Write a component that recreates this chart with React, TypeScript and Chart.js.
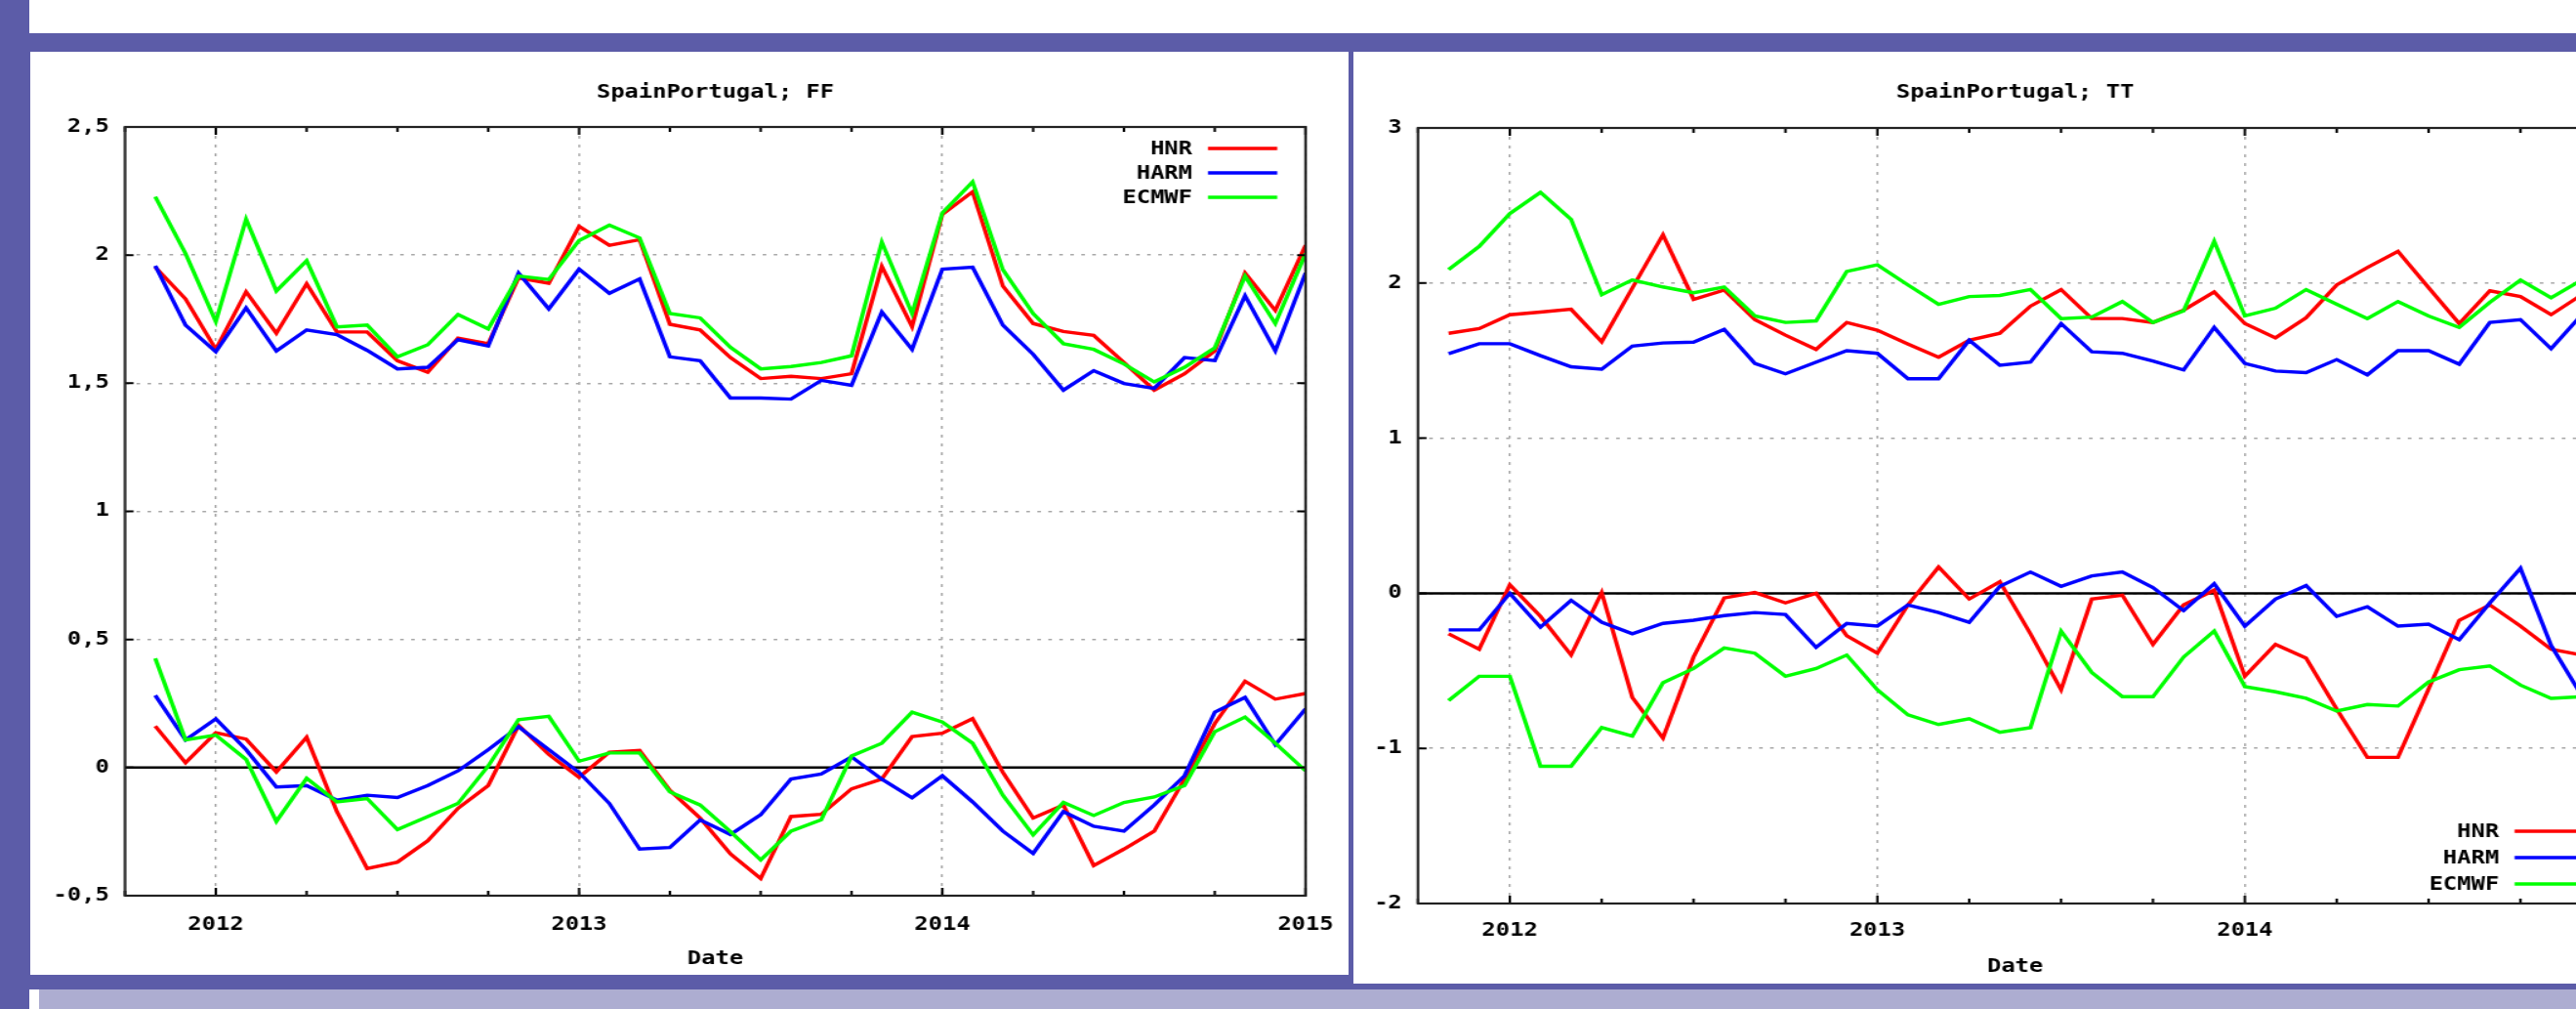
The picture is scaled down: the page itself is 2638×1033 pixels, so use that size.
import React, { useEffect, useRef } from 'react';
import { Chart, registerables } from 'chart.js';

Chart.register(...registerables);

// ---------------- data ----------------
const months = [
  '2011-11', '2011-12',
  '2012-01', '2012-02', '2012-03', '2012-04', '2012-05', '2012-06', '2012-07', '2012-08', '2012-09', '2012-10', '2012-11', '2012-12',
  '2013-01', '2013-02', '2013-03', '2013-04', '2013-05', '2013-06', '2013-07', '2013-08', '2013-09', '2013-10', '2013-11', '2013-12',
  '2014-01', '2014-02', '2014-03', '2014-04', '2014-05', '2014-06', '2014-07', '2014-08', '2014-09', '2014-10', '2014-11', '2014-12',
  '2015-01',
];

const seriesNames = ['HNR', 'HARM', 'ECMWF'];
const seriesColors = ['#ff0000', '#0000ff', '#00ff00'];

const yearLabels = ['2012', '2013', '2014', '2015'];
const yearTickValues = [0, 12, 24, 36];
const quarterTickValues = [-3, 0, 3, 6, 9, 12, 15, 18, 21, 24, 27, 30, 33, 36];

const ffTicks = [-0.5, 0, 0.5, 1, 1.5, 2, 2.5];
const ttTicks = [-2, -1, 0, 1, 2, 3];

// FF (wind speed): upper = RMSE-like, lower = bias
const ffHNR = [1.953, 1.829, 1.632, 1.857, 1.695, 1.888, 1.70, 1.70, 1.588, 1.543, 1.676, 1.654, 1.911, 1.89, 2.112, 2.038, 2.06, 1.73, 1.708,
  1.60, 1.518, 1.527, 1.518, 1.537, 1.956, 1.721, 2.159, 2.247, 1.879, 1.733, 1.702, 1.687, 1.581, 1.473, 1.537, 1.626, 1.93, 1.784, 2.038];
const ffHARM = [1.958, 1.727, 1.623, 1.794, 1.626, 1.708, 1.69, 1.628, 1.556, 1.562, 1.67, 1.645, 1.93, 1.79, 1.945, 1.851, 1.907, 1.603, 1.588,
  1.442, 1.442, 1.438, 1.511, 1.492, 1.778, 1.632, 1.945, 1.953, 1.727, 1.613, 1.473, 1.549, 1.499, 1.48, 1.60, 1.588, 1.841, 1.626, 1.93];
const ffECMWF = [2.228, 2.006, 1.74, 2.14, 1.86, 1.978, 1.72, 1.727, 1.603, 1.65, 1.768, 1.712, 1.918, 1.905, 2.057, 2.117, 2.067, 1.772, 1.755,
  1.64, 1.556, 1.565, 1.581, 1.607, 2.051, 1.772, 2.165, 2.286, 1.943, 1.772, 1.654, 1.632, 1.575, 1.505, 1.562, 1.638, 1.918, 1.733, 2.006];

const ffBiasHNR = [0.162, 0.019, 0.136, 0.111, -0.017, 0.118, -0.172, -0.394, -0.369, -0.286, -0.159, -0.07, 0.165, 0.051, -0.038, 0.06, 0.067, -0.089, -0.197,
  -0.337, -0.433, -0.191, -0.182, -0.083, -0.045, 0.121, 0.134, 0.191, -0.019, -0.197, -0.146, -0.382, -0.318, -0.248, -0.045, 0.172, 0.337, 0.267, 0.289];
const ffBiasHARM = [0.282, 0.108, 0.19, 0.07, -0.076, -0.07, -0.127, -0.108, -0.117, -0.07, -0.013, 0.07, 0.159, 0.07, -0.019, -0.14, -0.318, -0.312, -0.204,
  -0.261, -0.184, -0.045, -0.025, 0.042, -0.045, -0.118, -0.032, -0.134, -0.248, -0.335, -0.172, -0.229, -0.248, -0.146, -0.032, 0.216, 0.274, 0.089, 0.229];
const ffBiasECMWF = [0.426, 0.108, 0.127, 0.032, -0.21, -0.042, -0.134, -0.121, -0.242, -0.191, -0.14, 0.006, 0.187, 0.2, 0.025, 0.057, 0.057, -0.095, -0.146,
  -0.25, -0.36, -0.248, -0.204, 0.045, 0.095, 0.216, 0.178, 0.095, -0.108, -0.263, -0.136, -0.187, -0.136, -0.115, -0.07, 0.14, 0.197, 0.095, -0.013];

// TT (temperature): 2011-11 .. 2014-12
const ttHNR = [1.676, 1.706, 1.796, 1.813, 1.831, 1.622, 1.968, 2.311, 1.895, 1.955, 1.764, 1.664, 1.572, 1.746, 1.696, 1.607, 1.522, 1.632, 1.676,
  1.851, 1.958, 1.771, 1.771, 1.746, 1.826, 1.943, 1.739, 1.647, 1.776, 1.988, 2.1, 2.204, 1.97, 1.739, 1.95, 1.913, 1.796, 1.925];
const ttHARM = [1.545, 1.609, 1.609, 1.532, 1.46, 1.445, 1.594, 1.614, 1.619, 1.701, 1.482, 1.415, 1.49, 1.564, 1.547, 1.383, 1.383, 1.632, 1.47,
  1.49, 1.739, 1.557, 1.547, 1.497, 1.44, 1.714, 1.482, 1.433, 1.423, 1.507, 1.408, 1.564, 1.564, 1.477, 1.746, 1.764, 1.577, 1.796];
const ttECMWF = [2.087, 2.236, 2.448, 2.585, 2.411, 1.925, 2.02, 1.975, 1.938, 1.975, 1.788, 1.746, 1.756, 2.075, 2.117, 1.988, 1.863, 1.913, 1.92,
  1.958, 1.771, 1.781, 1.881, 1.746, 1.821, 2.269, 1.788, 1.838, 1.958, 1.863, 1.771, 1.881, 1.788, 1.714, 1.876, 2.02, 1.905, 2.02];

const ttBiasHNR = [-0.261, -0.361, 0.055, -0.149, -0.398, 0.005, -0.672, -0.933, -0.411, -0.03, 0.005, -0.062, 0.0, -0.274, -0.386, -0.075, 0.169, -0.037, 0.075,
  -0.261, -0.622, -0.037, -0.012, -0.329, -0.075, 0.02, -0.535, -0.329, -0.418, -0.747, -1.058, -1.058, -0.617, -0.174, -0.075, -0.212, -0.361, -0.398];
const ttBiasHARM = [-0.236, -0.236, 0.0, -0.219, -0.045, -0.187, -0.261, -0.194, -0.174, -0.144, -0.124, -0.137, -0.348, -0.194, -0.211, -0.075, -0.124, -0.187, 0.045,
  0.137, 0.045, 0.112, 0.137, 0.037, -0.112, 0.062, -0.212, -0.037, 0.05, -0.149, -0.087, -0.212, -0.199, -0.299, -0.062, 0.162, -0.336, -0.66];
const ttBiasECMWF = [-0.692, -0.535, -0.535, -1.115, -1.115, -0.866, -0.921, -0.577, -0.485, -0.353, -0.386, -0.535, -0.485, -0.398, -0.622, -0.784, -0.846, -0.809, -0.896,
  -0.866, -0.244, -0.51, -0.667, -0.667, -0.411, -0.244, -0.602, -0.635, -0.677, -0.759, -0.717, -0.727, -0.572, -0.493, -0.468, -0.592, -0.677, -0.667];

// ---------------- styling ----------------
const SX = 1.25; // horizontal stretch of the gnuplot image
const FONT = { family: "'DejaVu Sans Mono', monospace", size: 19, weight: 'bold' as const };
const LH = FONT.size * 1.2;
const PURPLE = '#5c5ca8';
const LAVENDER = '#adadd1';

const monthX = months.map((s) => {
  const [y, m] = s.split('-').map(Number);
  return (y - 2012) * 12 + (m - 1);
});

function toPoints(vals: number[]) {
  return vals.map((v, i) => ({ x: monthX[i], y: v }));
}

type Params = {
  title: string;
  yTicks: number[];
  groups: number[][][];
  W: number; H: number;
  plotLeft: number; plotTop: number; plotBottom: number; padRight: number;
  titleCenter: number; yearCenter: number; dateCenter: number;
  legendBottom: boolean;
};

function makeConfig(p: Params): any {
  const datasets: any[] = [];
  p.groups.forEach((grp) => {
    grp.forEach((vals, si) => {
      datasets.push({
        label: seriesNames[si],
        data: toPoints(vals),
        borderColor: seriesColors[si],
        backgroundColor: seriesColors[si],
        borderWidth: 3.4,
        pointRadius: 0,
        tension: 0,
        fill: false,
        order: 3 - si,
      });
    });
  });

  const gnuPlugin = {
    id: 'gnuframe' + p.title.replace(/[^A-Za-z]/g, ''),
    beforeDatasetsDraw(chart: any) {
      const { ctx, chartArea: a } = chart;
      const y = chart.scales.y;
      const y0 = y.getPixelForValue(0);
      ctx.save();
      ctx.strokeStyle = '#000';
      ctx.lineWidth = 2.5;
      ctx.beginPath();
      ctx.moveTo(a.left, y0);
      ctx.lineTo(a.right, y0);
      ctx.stroke();
      ctx.restore();
    },
    afterDatasetsDraw(chart: any) {
      const { ctx, chartArea: a } = chart;
      const xs = chart.scales.x;
      const ys = chart.scales.y;
      ctx.save();
      ctx.strokeStyle = '#000';
      ctx.lineWidth = 2;
      ctx.beginPath();
      xs.ticks.forEach((t: any) => {
        const px = xs.getPixelForValue(t.value);
        const len = yearTickValues.includes(t.value) ? 8 : 5;
        ctx.moveTo(px, a.bottom);
        ctx.lineTo(px, a.bottom - len);
        ctx.moveTo(px, a.top);
        ctx.lineTo(px, a.top + len);
      });
      ys.ticks.forEach((t: any) => {
        const py = ys.getPixelForValue(t.value);
        ctx.moveTo(a.left, py);
        ctx.lineTo(a.left + 7, py);
        ctx.moveTo(a.right, py);
        ctx.lineTo(a.right - 7, py);
      });
      ctx.stroke();
      ctx.strokeStyle = '#222';
      ctx.lineWidth = 2.2;
      ctx.strokeRect(a.left, a.top, a.right - a.left, a.bottom - a.top);
      ctx.font = `bold ${FONT.size}px ${FONT.family}`;
      ctx.textAlign = 'right';
      ctx.textBaseline = 'middle';
      const step = p.legendBottom ? 27 : 25;
      seriesNames.forEach((name, i) => {
        const cy = p.legendBottom ? a.bottom - 20 - (2 - i) * step : a.top + 22 + i * step;
        ctx.fillStyle = '#000';
        ctx.fillText(name, a.right - 92.8, cy + 1);
        ctx.strokeStyle = seriesColors[i];
        ctx.lineWidth = 3.4;
        ctx.beginPath();
        ctx.moveTo(a.right - 80, cy);
        ctx.lineTo(a.right - 23.2, cy);
        ctx.stroke();
      });
      ctx.restore();
    },
  };

  return {
    type: 'line',
    data: { datasets },
    plugins: [gnuPlugin],
    options: {
      animation: false,
      responsive: true,
      maintainAspectRatio: false,
      layout: { padding: { left: 0, right: p.padRight, top: 0, bottom: 0 } },
      plugins: {
        legend: { display: false },
        tooltip: { enabled: false },
        title: {
          display: true,
          fullSize: false,
          text: p.title,
          color: '#000',
          font: FONT,
          padding: { top: p.titleCenter - LH / 2, bottom: p.plotTop - p.titleCenter - LH / 2 },
        },
      },
      scales: {
        x: {
          type: 'linear',
          min: -3,
          max: 36,
          afterBuildTicks: (scale: any) => {
            scale.ticks = quarterTickValues.map((v) => ({ value: v }));
          },
          afterFit: (scale: any) => {
            scale.height = p.H - p.plotBottom;
            scale.paddingLeft = 0;
            scale.paddingRight = 0;
          },
          ticks: {
            autoSkip: false,
            maxRotation: 0,
            color: '#000',
            font: FONT,
            padding: p.yearCenter - p.plotBottom - LH / 2,
            callback: (v: any) => {
              const idx = yearTickValues.indexOf(Number(v));
              return idx >= 0 ? yearLabels[idx] : '';
            },
          },
          grid: {
            drawTicks: false,
            lineWidth: 1.5,
            color: (c: any) => (c.tick && yearTickValues.includes(c.tick.value) ? '#a8a8a8' : 'rgba(0,0,0,0)'),
          },
          border: { display: false, dash: [3, 6] },
          title: {
            display: true,
            text: 'Date',
            color: '#000',
            font: FONT,
            padding: { top: 0, bottom: p.H - p.dateCenter - LH / 2 },
          },
        },
        y: {
          type: 'linear',
          min: p.yTicks[0],
          max: p.yTicks[p.yTicks.length - 1],
          afterBuildTicks: (scale: any) => {
            scale.ticks = p.yTicks.map((v) => ({ value: v }));
          },
          afterFit: (scale: any) => {
            scale.width = p.plotLeft;
            scale.paddingTop = 0;
            scale.paddingBottom = 0;
          },
          ticks: {
            color: '#000',
            font: FONT,
            padding: 13,
            callback: (v: any) => String(v).replace('.', ','),
          },
          grid: {
            drawTicks: false,
            lineWidth: 1.5,
            color: '#a8a8a8',
          },
          border: { display: false, dash: [3, 6] },
        },
      },
    },
  };
}

function GnuChart(props: { params: Params; left: number; top: number }) {
  const ref = useRef<HTMLCanvasElement>(null);
  useEffect(() => {
    const chart = new Chart(ref.current as HTMLCanvasElement, makeConfig(props.params));
    return () => chart.destroy();
  }, []);
  const { params, left, top } = props;
  return (
    <div
      style={{
        position: 'absolute',
        left,
        top,
        width: params.W,
        height: params.H,
        transform: `scaleX(${SX})`,
        transformOrigin: '0 0',
      }}
    >
      <canvas ref={ref} />
    </div>
  );
}

const ffParams: Params = {
  title: 'SpainPortugal; FF',
  yTicks: ffTicks,
  groups: [[ffHNR, ffHARM, ffECMWF], [ffBiasHNR, ffBiasHARM, ffBiasECMWF]],
  W: 1350 / SX,
  H: 945,
  plotLeft: 97 / SX,
  plotTop: 77,
  plotBottom: 864,
  padRight: 44 / SX,
  titleCenter: 42,
  yearCenter: 894,
  dateCenter: 929,
  legendBottom: false,
};

const ttParams: Params = {
  title: 'SpainPortugal; TT',
  yTicks: ttTicks,
  groups: [[ttHNR, ttHARM, ttECMWF], [ttBiasHNR, ttBiasHARM, ttBiasECMWF]],
  W: 1332 / SX,
  H: 954,
  plotLeft: 66 / SX,
  plotTop: 78,
  plotBottom: 872,
  padRight: 44 / SX,
  titleCenter: 42,
  yearCenter: 900,
  dateCenter: 937,
  legendBottom: true,
};

export default function App() {
  return (
    <div
      style={{
        position: 'fixed',
        left: 0,
        top: 0,
        width: 2638,
        height: 1033,
        overflow: 'hidden',
        background: '#ffffff',
      }}
    >
      <div style={{ position: 'absolute', left: 0, top: 34, width: 2638, height: 979, background: PURPLE }} />
      <div style={{ position: 'absolute', left: 0, top: 0, width: 30, height: 1033, background: PURPLE }} />
      <div style={{ position: 'absolute', left: 40, top: 1013, width: 2598, height: 20, background: LAVENDER }} />
      <div style={{ position: 'absolute', left: 31, top: 53, width: 1350, height: 945, background: '#ffffff' }} />
      <div style={{ position: 'absolute', left: 1386, top: 53, width: 1300, height: 954, background: '#ffffff' }} />
      <GnuChart params={ffParams} left={31} top={53} />
      <GnuChart params={ttParams} left={1386} top={53} />
    </div>
  );
}
